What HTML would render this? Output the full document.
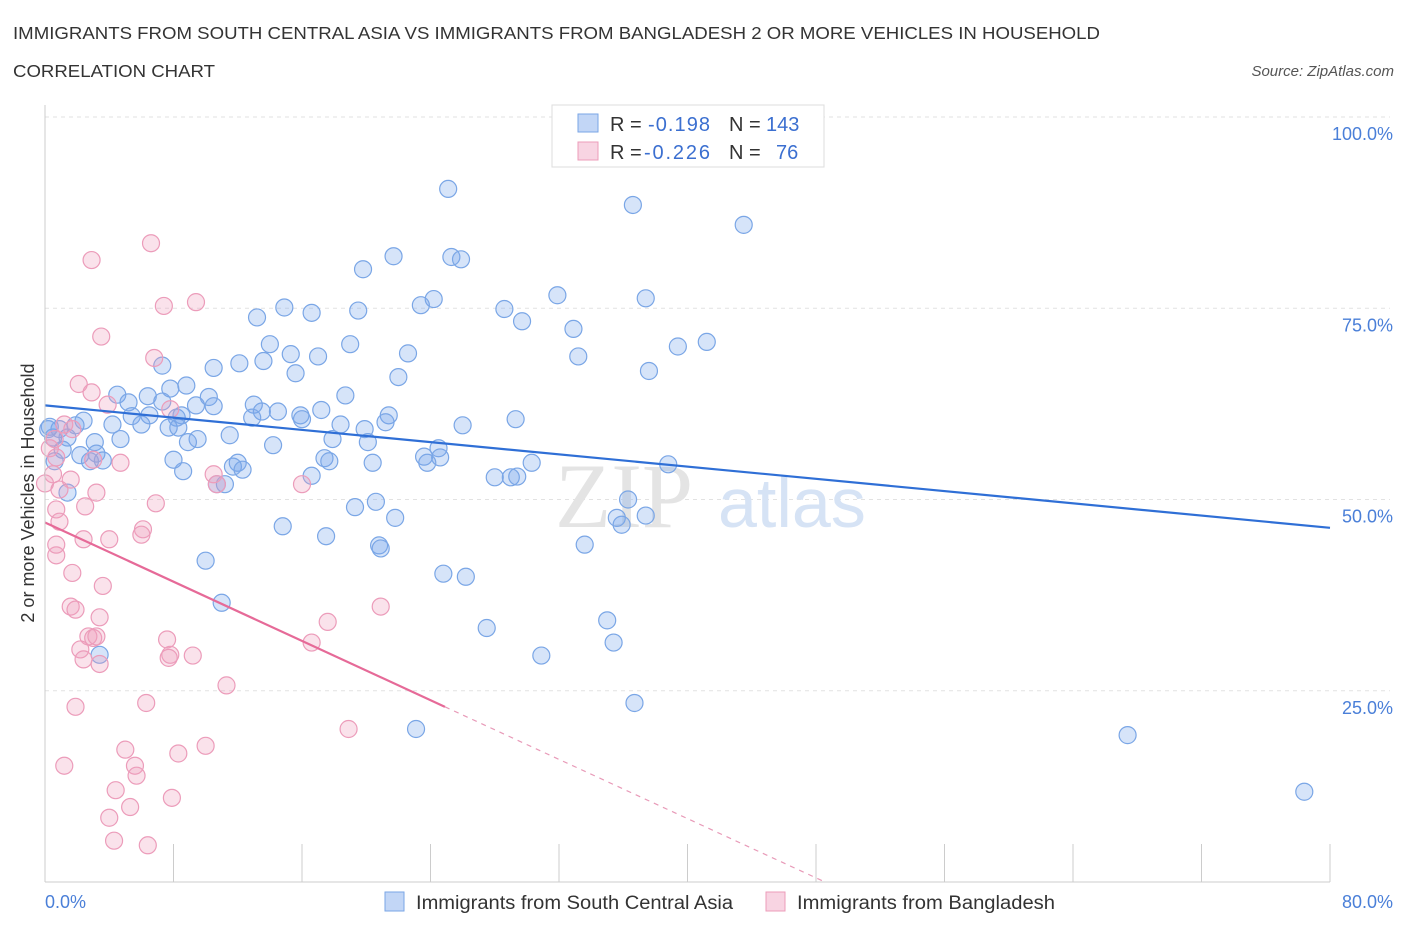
<!DOCTYPE html>
<html><head><meta charset="utf-8"><style>
body{margin:0;background:#fff;font-family:"Liberation Sans",sans-serif;}
svg{display:block}
</style></head><body>
<svg id="chart" width="1406" height="930" viewBox="0 0 1406 930" xmlns="http://www.w3.org/2000/svg">
<text x="13" y="39" font-size="17.5" fill="#333" textLength="1087" lengthAdjust="spacingAndGlyphs">IMMIGRANTS FROM SOUTH CENTRAL ASIA VS IMMIGRANTS FROM BANGLADESH 2 OR MORE VEHICLES IN HOUSEHOLD</text>
<text x="13" y="77" font-size="17.5" fill="#333" textLength="202" lengthAdjust="spacingAndGlyphs">CORRELATION CHART</text>
<text x="1394" y="76" font-size="15" fill="#555" font-style="italic" text-anchor="end">Source: ZipAtlas.com</text>
<g id="grid"></g>
<g>
<text x="555" y="527" font-size="92" font-family="Liberation Serif,serif" fill="#e4e4e4">ZIP</text>
<text x="718" y="527" font-size="70" fill="#d6e3f5">atlas</text>
</g>
<g id="pts"></g>
<g id="lines"></g>
<g id="axes"></g>
<text transform="translate(34,493) rotate(-90)" font-size="18" fill="#333" text-anchor="middle">2 or more Vehicles in Household</text>
<g>
<rect x="552" y="105" width="272" height="62" fill="#fff" stroke="#ddd"/>
<g>
<rect x="578" y="114" width="20" height="18" fill="rgba(120,165,235,0.45)" stroke="#7aa6e6"/>
<text x="610" y="131" font-size="20" fill="#333">R =</text>
<text x="648" y="131" font-size="20" fill="#3b6fd0" textLength="62">-0.198</text>
<text x="729" y="131" font-size="20" fill="#333">N =</text>
<text x="766" y="131" font-size="20" fill="#3b6fd0">143</text>
</g>
<g>
<rect x="578" y="142" width="20" height="18" fill="rgba(240,160,190,0.45)" stroke="#ec9cba"/>
<text x="610" y="159" font-size="20" fill="#333">R =</text>
<text x="644" y="159" font-size="20" fill="#3b6fd0" textLength="66">-0.226</text>
<text x="729" y="159" font-size="20" fill="#333">N =</text>
<text x="776" y="159" font-size="20" fill="#3b6fd0">76</text>
</g>
</g>
<g>
<rect x="385" y="892" width="19" height="19" fill="rgba(120,165,235,0.45)" stroke="#7aa6e6"/>
<text x="416" y="909" font-size="19" fill="#333" textLength="317" lengthAdjust="spacingAndGlyphs">Immigrants from South Central Asia</text>
<rect x="766" y="892" width="19" height="19" fill="rgba(240,160,190,0.45)" stroke="#ec9cba"/>
<text x="797" y="909" font-size="19" fill="#333" textLength="258" lengthAdjust="spacingAndGlyphs">Immigrants from Bangladesh</text>
</g>
</svg>
<script>
const blueX=[25.1,36.6,43.5,21.7,25.3,25.9,19.8,31.9,37.4,24.2,23.4,28.6,14.9,16.6,19.5,13.2,29.7,32.9,19.0,14.0,41.2,39.4,22.6,15.3,17.0,13.6,33.2,15.6,12.1,10.5,7.3,37.6,22.0,8.8,7.8,4.5,6.4,10.2,18.7,5.2,7.3,9.4,10.5,13.0,13.5,14.5,17.2,15.9,21.4,12.9,5.4,6.5,8.2,8.5,16.0,21.2,18.4,29.3,26.0,4.2,6.0,7.7,8.3,11.5,19.9,9.5,8.9,4.7,3.1,2.4,1.9,0.9,0.2,0.5,1.4,14.2,17.9,20.1,24.5,3.2,2.2,2.8,3.6,1.1,0.6,8.0,17.4,12.0,17.7,23.6,24.6,30.3,38.8,11.7,20.4,23.8,8.6,12.3,16.6,28.0,29.0,29.4,10.7,11.2,1.4,36.3,20.6,19.3,21.8,35.6,37.4,35.9,14.8,17.5,20.8,20.9,33.6,10.0,24.8,26.2,11.0,35.0,27.5,35.4,3.4,30.9,36.7,23.1,67.4,78.4,0.3];
const blueY=[90.6,88.5,85.9,81.8,81.7,81.4,80.1,76.7,76.3,76.2,75.4,74.9,75.1,74.4,74.7,73.8,73.3,72.3,70.3,70.3,70.6,70.0,69.1,69.0,68.7,68.1,68.7,66.5,67.8,67.2,67.5,66.8,66.0,64.9,64.5,63.7,63.5,63.4,63.6,62.7,62.8,62.3,62.2,62.4,61.5,61.5,61.7,61.0,61.0,60.7,60.9,61.0,60.7,61.0,60.5,60.1,59.8,60.5,59.7,59.8,59.8,59.4,59.4,58.4,59.2,57.9,57.5,57.9,57.5,60.3,59.7,59.2,59.2,58.1,58.1,57.1,57.9,57.5,56.7,56.0,55.8,55.0,55.1,56.5,55.0,55.2,55.4,54.8,55.0,55.6,55.5,54.8,54.6,54.3,54.8,54.8,53.7,53.9,53.1,52.9,52.9,53.0,52.0,52.0,50.9,50.0,49.7,49.0,47.6,47.6,47.9,46.7,46.5,45.2,44.0,43.6,44.1,42.0,40.3,39.9,36.5,34.2,33.2,31.3,29.7,29.6,23.4,20.0,19.2,11.8,59.5];
const pinkX=[6.6,2.9,9.4,7.4,3.5,6.8,2.1,2.9,3.9,7.8,1.2,1.7,0.6,0.3,0.7,3.0,4.7,10.5,10.7,0.5,1.6,0.0,0.9,3.2,6.9,0.7,2.5,0.9,6.1,6.0,2.4,4.0,0.7,1.7,3.6,1.6,1.9,20.9,3.4,17.6,7.6,2.7,3.0,3.2,2.2,16.6,7.8,7.7,9.2,2.4,3.4,11.3,1.9,6.3,18.9,5.0,10.0,8.3,1.2,5.6,5.7,4.4,7.9,5.3,4.0,4.3,6.4,16.0,0.7];
const pinkY=[83.5,81.3,75.8,75.3,71.3,68.5,65.1,64.0,62.4,61.8,59.8,59.2,57.9,56.7,55.5,55.2,54.8,53.3,52.0,53.3,52.6,52.1,51.3,50.9,49.5,48.7,49.1,47.1,46.1,45.4,44.8,44.8,42.7,40.4,38.7,36.0,35.6,36.0,34.6,34.0,31.7,32.1,31.9,32.1,30.4,31.3,29.7,29.3,29.6,29.1,28.5,25.7,22.9,23.4,20.0,17.3,17.8,16.8,15.2,15.2,13.9,12.0,11.0,9.8,8.4,5.4,4.8,52.0,44.1];
const blueTrend=[62.3,46.3];
const pinkTrend=[47.0,22.9,24.9];
const yTicks=[100,75,50,25];
const xTickCount=10;
const NS="http://www.w3.org/2000/svg";
const X0=45,X1=1330,YT=117,YB=882;
function sx(v){return X0+(v/80)*(X1-X0);}
function sy(v){return YB-(v/100)*(YB-YT);}
function mk(tag,attrs,parent){const e=document.createElementNS(NS,tag);for(const k in attrs)e.setAttribute(k,attrs[k]);parent.appendChild(e);return e;}
const grid=document.getElementById('grid'),axes=document.getElementById('axes'),pts=document.getElementById('pts'),lines=document.getElementById('lines');
yTicks.forEach(t=>{
 const l=mk('line',{x1:X0,x2:X1+60,y1:sy(t),y2:sy(t),stroke:'#e2e2e2','stroke-dasharray':'4,4'},grid);
 
 
 const tx=mk('text',{x:1393,y:sy(t)+23,'font-size':18,fill:'#4a7fd8','text-anchor':'end'},axes);
 tx.textContent=t.toFixed(1)+'%';
 
 
});
mk('line',{x1:X0,x2:X0,y1:105,y2:YB,stroke:'#ccc'},axes);
mk('line',{x1:X0,x2:X1,y1:YB,y2:YB,stroke:'#ccc'},axes);
for(let i=0;i<=xTickCount;i++){
 const v=80*i/xTickCount;
 const t=mk('line',{x1:sx(v),x2:sx(v),y1:YB-38,y2:YB,stroke:'#ccc'},axes);
 
 
}
const xl=mk('text',{x:45,y:908,'font-size':18,fill:'#4a7fd8'},axes);xl.textContent='0.0%';


const xr=mk('text',{x:1393,y:908,'font-size':18,fill:'#4a7fd8','text-anchor':'end'},axes);xr.textContent='80.0%';


blueX.forEach((x,i)=>{
 const c=mk('circle',{cx:sx(x),cy:sy(blueY[i]),r:8.5,fill:'rgba(120,165,235,0.3)',stroke:'#7aa6e6','stroke-width':1.2},pts);
 
 
});
pinkX.forEach((x,i)=>{
 const c=mk('circle',{cx:sx(x),cy:sy(pinkY[i]),r:8.5,fill:'rgba(240,160,190,0.3)',stroke:'#ec9cba','stroke-width':1.2},pts);
 
 
});
const bl=mk('line',{x1:sx(0),y1:sy(blueTrend[0]),x2:sx(80),y2:sy(blueTrend[1]),stroke:'#2f6fd6','stroke-width':2.2},lines);


const slope=(pinkTrend[1]-pinkTrend[0])/pinkTrend[2];
const pl=mk('line',{x1:sx(0),y1:sy(pinkTrend[0]),x2:sx(pinkTrend[2]),y2:sy(pinkTrend[1]),stroke:'#e66a98','stroke-width':2.2},lines);


const xz=-pinkTrend[0]/slope;
const pd=mk('line',{x1:sx(pinkTrend[2]),y1:sy(pinkTrend[1]),x2:sx(xz),y2:sy(0),stroke:'#e89ab8','stroke-width':1.2,'stroke-dasharray':'5,5'},lines);


</script>
</body></html>
